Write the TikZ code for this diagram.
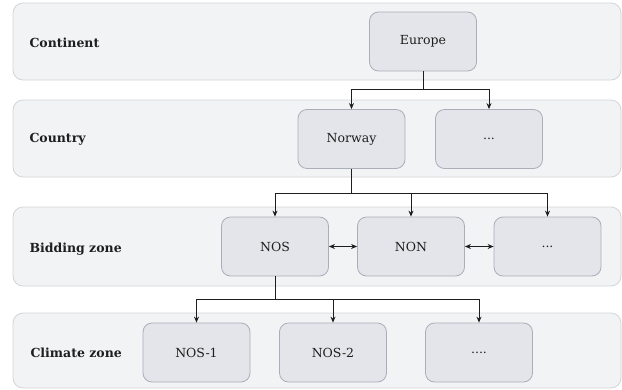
\documentclass[tikz,border=0pt]{standalone}
\usepackage{fontspec}
\setmainfont{DejaVu Serif}
\definecolor{bandfill}{HTML}{F2F3F5}
\definecolor{bandline}{HTML}{D2D4D8}
\definecolor{boxfill}{HTML}{E4E5EA}
\definecolor{boxline}{HTML}{A9AEB8}
\definecolor{linkdark}{HTML}{1E1E1E}
\usetikzlibrary{arrows.meta, positioning}

\begin{document}
\begin{tikzpicture}[x=1pt, y=-1pt,
   band/.style={draw=bandline, fill=bandfill, rounded corners=10pt, line width=0.8pt},
   zone/.style={draw=boxline, fill=boxfill, rounded corners=9pt, line width=0.8pt,
      minimum width=107pt, minimum height=59pt, inner sep=0pt,
      text=linkdark, font=\fontsize{12.5}{15}\selectfont},
   level/.style={anchor=west, text=linkdark, font=\fontsize{12.5}{15}\selectfont\bfseries},
   link/.style={draw=linkdark, line width=1pt},
   tip/.style={link, -{Stealth[length=6pt, width=5pt]}},
   both/.style={link, {Stealth[length=6pt, width=5pt]}-{Stealth[length=6pt, width=5pt]}}
]
   \useasboundingbox (0,0) rectangle (622,389);
   % Level bands
   \draw[band] (13,3) rectangle (621,80);
   \draw[band] (13,100) rectangle (621,177);
   \draw[band] (13,207) rectangle (621,286);
   \draw[band] (13,313) rectangle (621,388);
   % Level names
   \node[level] (continent) at (26,43) {Continent};
   \node[level] (country) at (26,139) {Country};
   \node[level] (bidding) at (26,249) {Bidding zone};
   \node[level] (climate) at (27,353) {Climate zone};
   % Continent row
   \node[zone] (europe) at (423,41.5) {Europe};
   % Country row
   \node[zone] (norway) at (351.5,139) {Norway};
   \node[zone] (country-more) at (489,139) {...};
   % Bidding zone row
   \node[zone] (nos) at (275,246.5) {NOS};
   \node[zone] (non) at (411,246.5) {NON};
   \node[zone] (bidding-more) at (547.5,246.5) {...};
   % Climate zone row
   \node[zone] (nos-one) at (196.5,352.5) {NOS-1};
   \node[zone] (nos-two) at (333,352.5) {NOS-2};
   \node[zone] (climate-more) at (479,352.5) {....};
   % Europe -> countries
   \path (europe.south) ++(0,18) coordinate (splitA);
   \draw[link] (europe.south) -- (splitA);
   \draw[tip] (splitA) -| (norway.north);
   \draw[tip] (splitA) -| (country-more.north);
   % Norway -> bidding zones
   \path (norway.south) ++(0,24.5) coordinate (splitB);
   \draw[link] (norway.south) -- (splitB);
   \draw[tip] (splitB) -| (nos.north);
   \draw[tip] (splitB) -| (non.north);
   \draw[tip] (splitB) -| (bidding-more.north);
   % Exchange between bidding zones
   \draw[both] (nos.east) -- (non.west);
   \draw[both] (non.east) -- (bidding-more.west);
   % NOS -> climate zones
   \path (nos.south) ++(0,23) coordinate (splitC);
   \draw[link] (nos.south) -- (splitC);
   \draw[tip] (splitC) -| (nos-one.north);
   \draw[tip] (splitC) -| (nos-two.north);
   \draw[tip] (splitC) -| (climate-more.north);
\end{tikzpicture}
\end{document}
